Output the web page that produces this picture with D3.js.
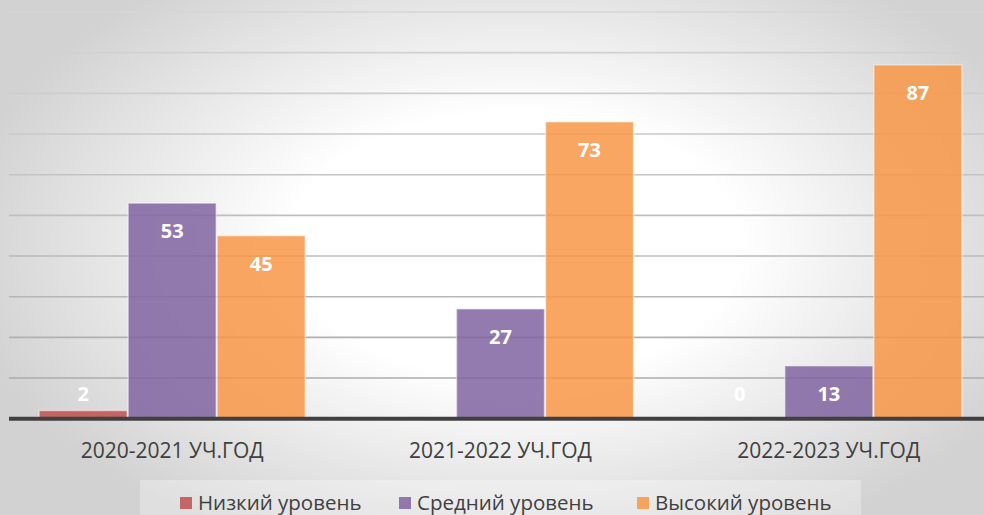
<!DOCTYPE html>
<html><head><meta charset="utf-8">
<script src="https://cdn.jsdelivr.net/npm/d3@7"></script>
<style>html,body{margin:0;padding:0;overflow:hidden;background:#fff}</style>
</head><body>
<svg id="chart" width="984" height="515"></svg>
<script>
const categories = ["2020-2021 УЧ.ГОД", "2021-2022 УЧ.ГОД", "2022-2023 УЧ.ГОД"];
const seriesNames = ["Низкий уровень", "Средний уровень", "Высокий уровень"];
const lowValues = [2, null, 0];
const midValues = [53, 27, 13];
const highValues = [45, 73, 87];
const seriesColors = ["#c0504d", "#8064a2", "#f79646"];
const yTicks = [0, 10, 20, 30, 40, 50, 60, 70, 80, 90, 100];

const seriesValues = [lowValues, midValues, highValues];
const W = 984, H = 515;
const svg = d3.select("#chart");
const font = "'Open Sans', 'Noto Sans', sans-serif";

// background radial gradient
const defs = svg.append("defs");
const rg = defs.append("radialGradient").attr("id", "bg")
  .attr("gradientUnits", "userSpaceOnUse")
  .attr("cx", 0).attr("cy", 0).attr("r", 1)
  .attr("gradientTransform", "translate(515,245) scale(560,330)");
rg.append("stop").attr("offset", 0).attr("stop-color", "#ffffff");
rg.append("stop").attr("offset", 0.4).attr("stop-color", "#ffffff");
rg.append("stop").attr("offset", 1).attr("stop-color", "#d2d2d2");
svg.append("rect").attr("width", W).attr("height", H).attr("fill", "url(#bg)");

const y = d3.scaleLinear().domain([0, 100]).range([418.7, 12]);
const x0 = d3.scaleBand().domain(categories).range([8, 993]).padding(0);
const x1 = d3.scaleBand().domain(seriesNames).range([0, x0.bandwidth()])
  .paddingInner(0).paddingOuter(0.344);

// gridlines
const gridCol = d3.interpolateRgb("#d6d6d6", "#a8a8a8");
svg.append("g").selectAll("line").data(yTicks.filter(t => t > 0)).join("line")
  .attr("x1", 9).attr("x2", W)
  .attr("y1", d => y(d)).attr("y2", d => y(d))
  .attr("stroke", d => gridCol(1 - d / 100))
  .attr("stroke-width", 1.6);

// bars
const groups = svg.append("g").selectAll("g").data(categories).join("g")
  .attr("transform", c => `translate(${x0(c)},0)`);
groups.each(function(c, ci) {
  const g = d3.select(this);
  seriesNames.forEach((s, si) => {
    const v = seriesValues[si][ci];
    if (v === null || v === undefined) return;
    if (v > 0) {
      g.append("rect")
        .attr("x", x1(s) + 0.5).attr("width", x1.bandwidth() - 1)
        .attr("y", y(v)).attr("height", y(0) - y(v))
        .attr("fill", seriesColors[si]).attr("fill-opacity", 0.85)
        .attr("stroke", "#ffffff").attr("stroke-opacity", 0.45).attr("stroke-width", 1.5);
    }
    g.append("text")
      .attr("x", x1(s) + x1.bandwidth() / 2)
      .attr("y", Math.min(y(v) + 28, y(0) - 25))
      .attr("dy", "0.36em")
      .attr("text-anchor", "middle")
      .attr("font-family", font).attr("font-weight", "bold").attr("font-size", 20)
      .attr("fill", "#ffffff")
      .text(v);
  });
});

// axis line
svg.append("line").attr("x1", 9).attr("x2", W).attr("y1", y(0)).attr("y2", y(0))
  .attr("stroke", "#404040").attr("stroke-width", 4);

// category labels
svg.append("g").selectAll("text").data(categories).join("text")
  .attr("x", c => x0(c) + x0.bandwidth() / 2)
  .attr("y", 458)
  .attr("text-anchor", "middle")
  .attr("font-family", font).attr("font-size", 21)
  .attr("fill", "#404040")
  .text(c => c);

// legend
svg.append("rect").attr("x", 140).attr("y", 480).attr("width", 721).attr("height", 40)
  .attr("fill", "#ffffff").attr("fill-opacity", 0.3);
const legendX = [180, 399, 637];
const lg = svg.append("g").selectAll("g").data(seriesNames).join("g")
  .attr("transform", (d, i) => `translate(${legendX[i]},0)`);
lg.append("rect").attr("x", 0).attr("y", 497).attr("width", 12).attr("height", 12)
  .attr("fill", (d, i) => seriesColors[i]).attr("fill-opacity", 0.85);
lg.append("text").attr("x", 18).attr("y", 509.5)
  .attr("font-family", font).attr("font-size", 20.5)
  .attr("fill", "#404040")
  .text(d => d);
</script>
</body></html>
